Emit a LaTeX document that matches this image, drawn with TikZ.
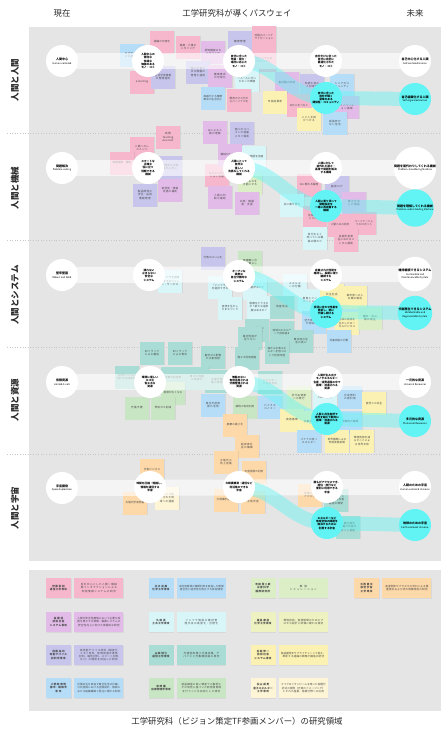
\documentclass[tikz,border=0pt]{standalone}
\usepackage{fontspec}
\setmainfont{Noto Sans CJK JP}
\usepackage{tikz}
\usetikzlibrary{positioning,calc,shadows}
\XeTeXlinebreaklocale "ja"
\XeTeXlinebreakskip=0pt plus 0.5pt
\definecolor{panelgray}{HTML}{E5E5E5}
\definecolor{headtext}{HTML}{2A2A2A}
\definecolor{notetext}{HTML}{4A4A4A}
\definecolor{notepink}{HTML}{F6B7CC}
\definecolor{notepurple}{HTML}{E2BBE8}
\definecolor{notelav}{HTML}{C7C5EC}
\definecolor{noteblue}{HTML}{B6DDF8}
\definecolor{notecyan}{HTML}{D8F5F8}
\definecolor{noteteal}{HTML}{A9DCD4}
\definecolor{notegreen}{HTML}{C9E6C4}
\definecolor{notelime}{HTML}{DCEEC6}
\definecolor{notepale}{HTML}{EEF2C0}
\definecolor{noteyellow}{HTML}{FBF1B2}
\definecolor{notecream}{HTML}{FDF5D6}
\definecolor{noteorange}{HTML}{FDD8A8}
\definecolor{shiftcyan}{HTML}{62F4F4}
\newcommand{\enlabel}[1]{{\fontsize{2.4}{3}\selectfont\mdseries #1}}
\pgfdeclarelayer{background}
\pgfdeclarelayer{notes}
\pgfdeclarelayer{bands}
\pgfsetlayers{background,notes,bands,main}
\tikzset{
  header/.style={font=\fontsize{8.4}{10}\selectfont, text=headtext},
  rowlabel/.style={rotate=90, font=\fontsize{8.5}{10}\selectfont\bfseries, text=headtext},
  separator/.style={draw=gray!45, dotted, line width=0.6pt},
  nowcircle/.style={circle, fill=white, minimum size=32pt, inner sep=0pt, align=center, font=\fontsize{3}{3.8}\selectfont\bfseries, text=black},
  pathcircle/.style={nowcircle, font=\fontsize{2.7}{3.3}\selectfont\bfseries},
  shiftcircle/.style={pathcircle, fill=shiftcyan},
  futurecircle/.style={nowcircle},
  futurealtcircle/.style={nowcircle, fill=shiftcyan},
  whiteband/.style={draw=white, draw opacity=0.6, line width=16pt},
  cyanband/.style={draw=shiftcyan, draw opacity=0.45, line width=14pt},
  sticky/.style={rectangle, minimum width=24pt, minimum height=23pt, text width=20pt, inner sep=1pt, align=center, font=\fontsize{2.6}{3.1}\selectfont, text=notetext, drop shadow={opacity=0.15, shadow xshift=0.5pt, shadow yshift=-0.6pt}},
  pinknote/.style={sticky, fill=notepink},
  purplenote/.style={sticky, fill=notepurple},
  lavnote/.style={sticky, fill=notelav},
  bluenote/.style={sticky, fill=noteblue},
  cyannote/.style={sticky, fill=notecyan},
  tealnote/.style={sticky, fill=noteteal},
  greennote/.style={sticky, fill=notegreen},
  limenote/.style={sticky, fill=notelime},
  yellownote/.style={sticky, fill=noteyellow},
  creamnote/.style={sticky, fill=notecream},
  orangenote/.style={sticky, fill=noteorange},
  namecard/.style={rectangle, minimum width=25pt, minimum height=20pt, text width=23pt, inner sep=0.5pt, align=center, font=\fontsize{2.6}{3.2}\selectfont\bfseries, text=notetext, drop shadow={opacity=0.12, shadow xshift=0.5pt, shadow yshift=-0.6pt}},
  desccard/.style={namecard, minimum width=49pt, text width=45pt, font=\fontsize{2.6}{3.2}\selectfont}
}
\begin{document}
\begin{tikzpicture}[x=1pt, y=-1pt]
  \useasboundingbox (0,0) rectangle (447,736);

  \node[header] (nowhead) at (62,13) {現在};
  \node[header] (pathhead) at (237,13) {工学研究科が導くパスウェイ};
  \node[header] (futurehead) at (415,13) {未来};

  \node[rowlabel] (label1) at (15,80) {人間と人間};
  \node[rowlabel] (label2) at (15,188) {人間と機械};
  \node[rowlabel] (label3) at (15,295) {人間とシステム};
  \node[rowlabel] (label4) at (15,400) {人間と資源};
  \node[rowlabel] (label5) at (15,508) {人間と宇宙};

  % human and human
  \node[nowcircle] (now1) at (62,61) {人間中心\\\enlabel{Human-centered}};
  \node[pathcircle] (pathA1) at (148,61) {人間中心の\\便利な\\快適な\\価値のある\\モノ・コト};
  \node[pathcircle] (pathB1) at (239,61) {自分に合った\\年齢・能力・\\場所に応じた\\モノ・コト};
  \node[pathcircle] (pathC1) at (326,61) {自分だけに合った\\自分に完全に\\最適化された\\モノ・コト};
  \node[futurecircle] (future1) at (415,61) {自己中心化する人類\\\enlabel{Self-centered Human}};
  \node[shiftcircle] (shift1) at (326,98) {自分に合った\\自分が輝く\\意味のある\\関係性・コミュニティ};
  \node[futurealtcircle] (futurealt1) at (415,99) {自己組織化する人類\\\enlabel{Self-organized Human}};

  % human and machine
  \node[nowcircle] (now2) at (62,168) {問題解決\\\enlabel{Problem-solving}};
  \node[pathcircle] (pathA2) at (148,168) {スマートな\\正確な\\役に立つ\\信頼できる\\機械};
  \node[pathcircle] (pathB2) at (239,168) {人間にとって\\自然な\\優しい\\先読みしてくれる\\機械};
  \node[pathcircle] (pathC2) at (326,168) {人間に対して\\並外れた速さ・\\高度で問題を解決\\する機械};
  \node[futurecircle] (future2) at (415,168) {問題を肩代わりしてくれる機械\\\enlabel{Problem-shouldering Machine}};
  \node[shiftcircle] (shift2) at (326,206) {人間に寄り添って\\問題設定を\\一緒に再定義する\\機械};
  \node[futurealtcircle] (futurealt2) at (415,208) {問題を理解してくれる機械\\\enlabel{Problem-understanding Machine}};

  % human and system
  \node[nowcircle] (now3) at (62,275) {堅牢堅固\\\enlabel{Robust and Solid}};
  \node[pathcircle] (pathA3) at (149,275) {壊れない\\止まらない\\安全な\\システム};
  \node[pathcircle] (pathB3) at (239,276) {オープンな\\柔軟な\\自立分散的な\\システム};
  \node[pathcircle] (pathC3) at (326,275) {定義された性能を\\維持し、長期に渡り\\継続する\\システム};
  \node[futurecircle] (future3) at (415,274) {維持継続できるシステム\\\enlabel{Sustainable and}\\\enlabel{Maintenancable System}};
  \node[shiftcircle] (shift3) at (326,312) {状況に合わせ性能を\\更新し、常に\\代謝し続ける\\システム};
  \node[futurealtcircle] (futurealt3) at (415,313) {代謝再生できるシステム\\\enlabel{Metabolizable and}\\\enlabel{Regeneratable System}};

  % human and resources
  \node[nowcircle] (now4) at (62,382) {有限資源\\\enlabel{Limited Assets}};
  \node[pathcircle] (pathA4) at (150,382) {環境に優しい\\エコな\\省エネな\\資源};
  \node[pathcircle] (pathB4) at (239,382) {無駄のない\\有効活用される\\分散管理される\\資源};
  \node[pathcircle] (pathC4) at (327,382) {人間が生み出す\\モノやエネルギー\\生産・消費過程の中で\\循環・流通される\\資源};
  \node[futurecircle] (future4) at (415,382) {一元的な資源\\\enlabel{Universal Resources}};
  \node[shiftcircle] (shift4) at (327,419) {人間と共生自然で\\境界を越えて動的に\\循環・流通される\\資源};
  \node[futurealtcircle] (futurealt4) at (415,421) {多元的な資源\\\enlabel{Pluriversal Resources}};

  % human and space
  \node[nowcircle] (now5) at (62,488) {宇宙開発\\\enlabel{Space Exploration}};
  \node[pathcircle] (pathA5) at (150,487) {時間を圧縮・短縮し、\\情報を通信する\\宇宙};
  \node[pathcircle] (pathB5) at (239,487) {大規模観測・通信など\\利活用のできる\\宇宙};
  \node[pathcircle] (pathC5) at (327,487) {誰もがアクセスでき、\\居住・旅行など\\便利に利用できる\\宇宙};
  \node[futurecircle] (future5) at (415,487) {人類のための宇宙\\\enlabel{Human-centered Universe}};
  \node[shiftcircle] (shift5) at (327,523) {エネルギーなど\\地球全体の問題を\\解決するために\\利用する宇宙};
  \node[futurealtcircle] (futurealt5) at (415,525) {地球のための宇宙\\\enlabel{Earth-centered Universe}};

  \begin{pgfonlayer}{background}
    \fill[panelgray] (29,27) rectangle (441,561);
    \fill[panelgray] (29,570) rectangle (441,711);
    \draw[separator] (7,133) -- (441,133);
    \draw[separator] (7,240) -- (441,240);
    \draw[separator] (7,347) -- (441,347);
    \draw[separator] (7,454) -- (441,454);
  \end{pgfonlayer}

  \begin{pgfonlayer}{notes}
    % human and human
    \node[bluenote] (hh1) at (132,55) {ロボティクスの民主化};
    \node[pinknote] (hh2) at (162,42) {組織の可視化};
    \node[pinknote] (hh3) at (188,47) {医療・介護モニタリング};
    \node[purplenote] (hh4) at (213,52) {認知機能のモニタリング};
    \node[pinknote] (hh5) at (142,82) {e-learning};
    \node[lavnote] (hh6) at (163,77) {生活学習情報の管理運用};
    \node[lavnote] (hh7) at (198,72) {個人のあらゆる情報の管理と運用};
    \node[purplenote] (hh8) at (220,76) {健康寿命の可視化};
    \node[bluenote] (hh9) at (213,98) {高齢化する健康寿命の生活向上};
    \node[lavnote] (hh10) at (240,42) {健康管理};
    \node[pinknote] (hh11) at (264,37) {究極のパーソナライゼーション};
    \node[pinknote] (hh12) at (264,60) {パーソナルなモビリティ};
    \node[cyannote] (hh13) at (247,80) {一人一人に合ったモノの価値};
    \node[pinknote] (hh14) at (239,100) {教育のマス化からパーソナル化};
    \node[purplenote] (hh15) at (287,83) {脳活動の共有};
    \node[lavnote] (hh18) at (312,85) {伝統工芸の人材育成};
    \node[bluenote] (hh19) at (342,85) {シニアのコミュニティ};
    \node[yellownote] (hh16) at (275,102) {市民起業家};
    \node[pinknote] (hh17) at (299,105) {AIが人をつなぐ};
    \node[purplenote] (hh20) at (347,107) {イノベーション探索};
    \node[yellownote] (hh21) at (309,119) {人と人を結びつける};
    \node[bluenote] (hh22) at (335,123) {孤独死がない住宅};
    \node[lavnote] (hh23) at (242,133) {個人がスパコン大容量メモリ保有};
    \node[pinknote] (hh24) at (168,137) {助教\\Teaching Assistant};
    \node[purplenote] (hh25) at (215,132) {AIによる人間の理解};
    % human and machine
    \node[pinknote] (hm1) at (142,148) {人間へのレコメンド};
    \node[pinknote] (hm2) at (122,163) {情報検索・要約};
    \node[lavnote] (hm3) at (170,167) {人間同士の関係から学ぶ};
    \node[lavnote] (hm4) at (145,195) {製品開発の安全・品質情報管理};
    \node[purplenote] (hm5) at (170,190) {新技術・情報流通の補助};
    \node[pinknote] (hm6) at (217,175) {コミュニケーション支援};
    \node[purplenote] (hm7) at (220,197) {人間の判断の補助};
    \node[purplenote] (hm8) at (230,155) {機械が人を理解};
    \node[cyannote] (hm9) at (254,157) {人の意図を加速};
    \node[limenote] (hm10) at (250,183) {生きものを可能にする};
    \node[purplenote] (hm11) at (247,203) {共感・模擬者・支援};
    \node[pinknote] (hm12) at (309,185) {AIに関わる倫理};
    \node[lavnote] (hm13) at (337,187) {脳波ログ};
    \node[cyannote] (hm14) at (292,205) {共に寄り添う};
    \node[purplenote] (hm15) at (354,203) {答えを出した理由};
    \node[pinknote] (hm16) at (315,217) {言語理解AIとの対話};
    \node[pinknote] (hm17) at (340,225) {人間とAIの共同};
    \node[pinknote] (hm18) at (364,223) {パートナーとしてのロボット};
    \node[cyannote] (hm19) at (315,238) {自分をよく知っている機械の関わり};
    \node[pinknote] (hm20) at (346,240) {長期宇宙滞在におけるメンタル援助};
    % human and system
    \node[lavnote] (hs1) at (213,258) {行政のスリム化};
    \node[cyannote] (hs2) at (170,281) {インフラを自律化するガジェット・サービス};
    \node[cyannote] (hs3) at (220,287) {「インフラ」を選択できる};
    \node[greennote] (hs5) at (250,262) {価値観に合った暮らし};
    \node[cyannote] (hs6) at (295,285) {エネルギーの分散};
    \node[cyannote] (hs7) at (255,288) {選択肢がない？};
    \node[cyannote] (hs8) at (230,308) {自律を生かしたまちづくり};
    \node[cyannote] (hs9) at (259,307) {医療をどうするか？新たな選択肢はあるか？};
    \node[tealnote] (hs10) at (282,307) {地産地消};
    \node[cyannote] (hs11) at (310,300) {若者とイノベーション};
    \node[yellownote] (hs12) at (332,295) {共生社会};
    \node[yellownote] (hs13) at (355,297) {都市部への人口集中解消};
    \node[bluenote] (hs15) at (314,322) {空き家を活かした地域の再生};
    \node[yellownote] (hs14) at (347,323) {地域の資源を生かしたローカルビジネス};
    \node[limenote] (hs16) at (370,318) {農村・中山間の再生};
    \node[tealnote] (hs17) at (257,330) {化石燃料に頼らない};
    \node[tealnote] (hs18) at (282,332) {地域のエネルギーで自給自足};
    \node[tealnote] (hs19) at (250,338) {電池性能が足りない};
    \node[tealnote] (hs20) at (301,341) {東京湾の生活の質に};
    \node[bluenote] (hs21) at (339,341) {月面自給の行動};
    % human and resources
    \node[tealnote] (hr1) at (152,353) {EVトラックによる輸送};
    \node[tealnote] (hr2) at (180,353) {EVトラックによる物流};
    \node[tealnote] (hr3) at (213,357) {都市ガス配管や水素供給};
    \node[tealnote] (hr4) at (127,377) {公共サービスに向けた水素利用};
    \node[tealnote] (hr5) at (173,378) {水素の利活用};
    \node[tealnote] (hr9) at (197,378) {再エネ発電の高度化};
    \node[tealnote] (hr10) at (217,381) {太陽光発電の普及};
    \node[greennote] (hr6) at (173,393) {資源がなくなる};
    \node[greennote] (hr7) at (137,408) {充電不要};
    \node[greennote] (hr8) at (163,408) {燃料ガス削減};
    \node[bluenote] (hr11) at (213,405) {再生可能資源の活用};
    \node[tealnote] (hr13) at (277,352) {海から水素エネルギーを低コストで利用可能};
    \node[tealnote] (hr14) at (247,358) {再エネ利用促進};
    \node[tealnote] (hr15) at (270,382) {エネルギーの地産地消};
    \node[greennote] (hr16) at (245,407) {植物の有効利用};
    \node[bluenote] (hr17) at (270,407) {バイオエコノミー};
    \node[limenote] (hr18) at (299,397) {非化石資源への移行};
    \node[yellownote] (hr19) at (292,420) {資源循環};
    \node[yellownote] (hr20) at (312,422) {水素の資源化};
    \node[cyannote] (hr21) at (325,398) {CO2の回収};
    \node[bluenote] (hr22) at (350,397) {合成燃料の再利用};
    \node[yellownote] (hr23) at (374,403) {自然との共生};
    \node[bluenote] (hr24) at (350,422) {廃棄物の循環};
    \node[orangenote] (hr25) at (235,425) {廃棄の最小化};
    \node[orangenote] (hr26) at (247,446) {脱炭素社会の構築};
    \node[bluenote] (hr27) at (309,441) {バナナの皮→エネルギー};
    \node[yellownote] (hr28) at (337,441) {世界循環による気候変動抑制};
    \node[yellownote] (hr29) at (362,441) {環境負荷を減らすことによる世界平和};
    % human and space
    \node[orangenote] (hu1) at (152,470) {宇宙ビジネス};
    \node[orangenote] (hu2) at (135,503) {太陽光宇宙発電};
    \node[creamnote] (hu3) at (167,498) {マシンで利用された地域への運搬};
    \node[orangenote] (hu4) at (226,462) {太陽光の地上送電};
    \node[orangenote] (hu5) at (226,500) {大規模宇宙施設};
    \node[orangenote] (hu6) at (254,472) {宇宙資源の利用};
    \node[orangenote] (hu7) at (253,502) {宇宙学習};
    \node[orangenote] (hu8) at (310,495) {宇宙へのアクセス};
    \node[tealnote] (hu9) at (336,500) {再使用ロケットによる宇宙輸送の開発};
    \node[tealnote] (hu10) at (348,527) {月面太陽光発電の宇宙ロボット技術};
  \end{pgfonlayer}

  \begin{pgfonlayer}{bands}
    \draw[whiteband] (now1.center) -- (future1.center);
    \draw[whiteband] (now2.center) -- (future2.center);
    \draw[whiteband] (now3.center) -- (future3.center);
    \draw[whiteband] (now4.center) -- (future4.center);
    \draw[whiteband] (now5.center) -- (future5.center);
    \draw[cyanband] (pathB1.center) to[out=0, in=180] (shift1.center) -- (futurealt1.center);
    \draw[cyanband] (pathB2.center) to[out=0, in=180] (shift2.center) -- (futurealt2.center);
    \draw[cyanband] (pathB3.center) to[out=0, in=180] (shift3.center) -- (futurealt3.center);
    \draw[cyanband] (pathB4.center) to[out=0, in=180] (shift4.center) -- (futurealt4.center);
    \draw[cyanband] (pathB5.center) to[out=0, in=180] (shift5.center) -- (futurealt5.center);
  \end{pgfonlayer}

  % research areas of the members
  \node[namecard, fill=notepink] (ito) at (58.5,588) {伊藤 彰則\\通信工学専攻};
  \node[desccard, fill=notepink, right=3pt of ito] (itodesc) {音を中心とした人間ー機械間インタラクションによる知能情報システムの研究};
  \node[namecard, fill=notepurple] (takahashi) at (58.5,622) {髙橋 信\\技術社会\\システム専攻};
  \node[desccard, fill=notepurple, right=3pt of takahashi] (takahashidesc) {人間が安全性確保において主要な役割を果たす大規模・複雑システムの安全性向上に向けた実践的な研究};
  \node[namecard, fill=notelav] (sutou) at (58.5,655) {須藤 祐司\\知能デバイス\\材料学専攻};
  \node[desccard, fill=notelav, right=3pt of sutou] (sutoudesc) {高性能デバイス材料（相変化メモリ材料、新規熱電半導体材料、磁性材料、スマート材料など）の開発を目指した研究};
  \node[namecard, fill=noteblue] (onoda) at (58.5,688) {小野田 泰明\\都市・建築学\\専攻};
  \node[desccard, fill=noteblue, right=3pt of onoda] (onodadesc) {近隣共生を目指す集合住宅の計画、公共施設における空間設計、復興における組織構築と発注に関する研究};

  \node[namecard, fill=noteblue] (kitagawa) at (161,588) {北川 尚美\\化学工学専攻};
  \node[desccard, fill=noteblue, right=3pt of kitagawa] (kitagawadesc) {未利用資源の循環利用を目指した環境適合性と経済性を両立する技術開発};
  \node[namecard, fill=notecyan] (hisada) at (161,622) {久田 真\\土木工学専攻};
  \node[desccard, fill=notecyan, right=3pt of hisada] (hisadadesc) {インフラ施設の維持管理手法の高度化・合理化};
  \node[namecard, fill=noteteal] (yamada) at (161,655) {山田 博仁\\通信工学専攻};
  \node[desccard, fill=noteteal, right=3pt of yamada] (yamadadesc) {光通信用微小光導波路、デバイスと光集積回路の研究};
  \node[namecard, fill=notegreen] (miyazaki) at (161,688) {宮崎 讓\\応用物理学専攻};
  \node[desccard, fill=notegreen, right=3pt of miyazaki] (miyazakidesc) {結晶構造の高い精度での解明とその知見に基づいた新物質開発を行うことを目的とした研究};

  \node[namecard, fill=notelime] (terada) at (263,588) {寺田 賢二郎\\災害科学\\国際研究所};
  \node[desccard, fill=notelime, right=3pt of terada] (teradadesc) {数値\\シミュレーション};
  \node[namecard, fill=notepale] (fukushima) at (263,622) {福島 康裕\\化学工学専攻};
  \node[desccard, fill=notepale, right=3pt of fukushima] (fukushimadesc) {環境技術、資源循環のためのプロセス設計と評価に関わる研究};
  \node[namecard, fill=noteyellow] (ishida) at (263,655) {石田 修一\\技術社会\\システム専攻};
  \node[desccard, fill=noteyellow, right=3pt of ishida] (ishidadesc) {製品開発をサプライチェーンで捉え、革新する組織の戦略や構造の研究};
  \node[namecard, fill=notecream] (matsuyama) at (263,688) {松山 成男\\量子エネルギー\\工学専攻};
  \node[desccard, fill=notecream, right=3pt of matsuyama] (matsuyamadesc) {マイクロイオンビームを用いた各種分析法の開発（元素のイメージング）とそれの産業、医療分野への応用};

  \node[namecard, fill=noteorange] (oonishi) at (366.5,588) {大西 直文\\航空宇宙\\工学専攻};
  \node[desccard, fill=noteorange, right=3pt of oonishi] (oonishidesc) {高温気体やプラズマの流れによる推進技術および流れ制御技術の研究};

  \node[header] (caption) at (237,721) {工学研究科（ビジョン策定TF参画メンバー）の研究領域};
\end{tikzpicture}
\end{document}
